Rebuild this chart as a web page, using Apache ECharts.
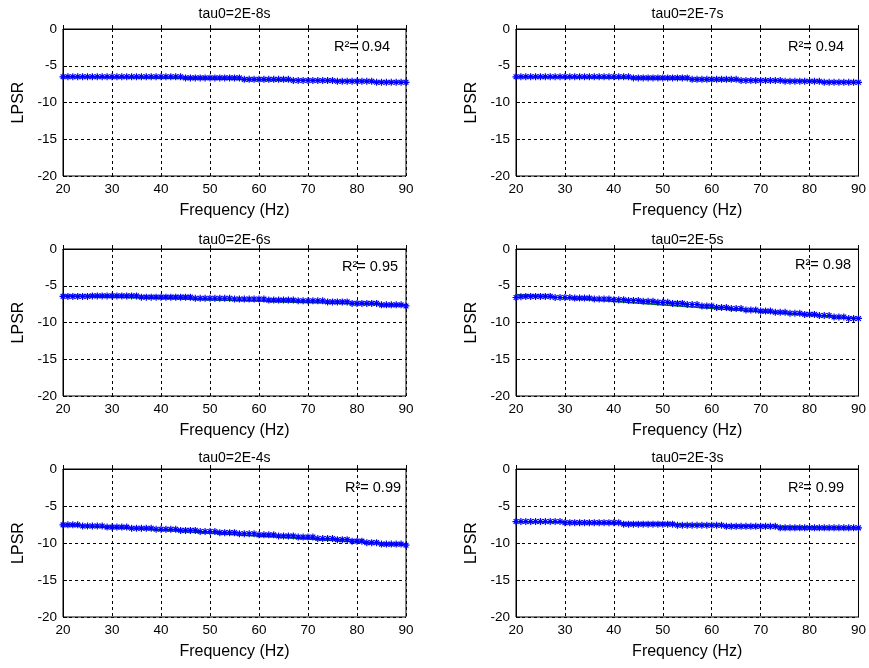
<!DOCTYPE html>
<html>
<head>
<meta charset="utf-8">
<script src="https://cdn.jsdelivr.net/npm/echarts@6/dist/echarts.min.js"></script>
<style>html,body{margin:0;padding:0;background:#fff}#c{width:869px;height:668px}</style>
</head>
<body>
<div id="c"></div>
<script>
const freq = [20,21,22,23,24,25,26,27,28,29,30,31,32,33,34,35,36,37,38,39,40,41,42,43,44,45,46,47,48,49,50,51,52,53,54,55,56,57,58,59,60,61,62,63,64,65,66,67,68,69,70,71,72,73,74,75,76,77,78,79,80,81,82,83,84,85,86,87,88,89,90];

const lpsr_2E8 = [
-6.5,-6.5,-6.5,-6.5,-6.5,-6.5,-6.5,-6.5,-6.5,-6.5,
-6.5,-6.5,-6.5,-6.5,-6.5,-6.5,-6.5,-6.5,-6.5,-6.5,
-6.5,-6.5,-6.5,-6.5,-6.5,
-6.65,-6.65,-6.65,-6.65,-6.65,-6.65,-6.65,-6.65,-6.65,-6.65,-6.65,-6.65,
-6.85,-6.85,-6.85,-6.85,-6.85,-6.85,-6.85,-6.85,-6.85,-6.85,
-7.0,-7.0,-7.0,-7.0,-7.0,-7.0,-7.0,-7.0,-7.0,
-7.1,-7.1,-7.1,-7.1,-7.1,-7.1,-7.1,-7.1,
-7.25,-7.25,-7.25,-7.25,-7.25,-7.25,-7.25];

const lpsr_2E7 = [
-6.5,-6.5,-6.5,-6.5,-6.5,-6.5,-6.5,-6.5,-6.5,-6.5,
-6.5,-6.5,-6.5,-6.5,-6.5,-6.5,-6.5,-6.5,-6.5,-6.5,
-6.5,-6.5,-6.5,-6.5,
-6.65,-6.65,-6.65,-6.65,-6.65,-6.65,-6.65,-6.65,-6.65,-6.65,-6.65,-6.65,
-6.85,-6.85,-6.85,-6.85,-6.85,-6.85,-6.85,-6.85,-6.85,-6.85,
-7.0,-7.0,-7.0,-7.0,-7.0,-7.0,-7.0,-7.0,-7.0,
-7.1,-7.1,-7.1,-7.1,-7.1,-7.1,-7.1,-7.1,
-7.25,-7.25,-7.25,-7.25,-7.25,-7.25,-7.25,-7.25];

const lpsr_2E6 = [
-6.45,-6.45,-6.45,-6.45,-6.45,-6.45,
-6.38,-6.38,-6.38,-6.38,-6.38,-6.38,-6.38,-6.38,-6.38,-6.38,
-6.55,-6.55,-6.55,-6.55,-6.55,-6.55,-6.55,-6.55,-6.55,-6.55,-6.55,
-6.7,-6.7,-6.7,-6.7,-6.7,-6.7,-6.7,-6.7,
-6.8,-6.8,-6.8,-6.8,-6.8,-6.8,-6.8,
-6.95,-6.95,-6.95,-6.95,-6.95,-6.95,
-7.05,-7.05,-7.05,-7.05,-7.05,-7.05,
-7.2,-7.2,-7.2,-7.2,-7.2,
-7.4,-7.4,-7.4,-7.4,-7.4,-7.4,
-7.6,-7.6,-7.6,-7.6,-7.6,
-7.75];

const lpsr_2E5 = [
-6.6,-6.5,
-6.45,-6.45,-6.45,-6.45,-6.45,-6.45,
-6.6,-6.6,-6.6,-6.6,
-6.68,-6.68,-6.68,-6.68,
-6.8,-6.8,-6.8,-6.8,
-6.9,-6.9,-6.9,
-7.0,-7.0,-7.0,
-7.12,-7.12,-7.12,
-7.25,-7.25,-7.25,
-7.4,-7.4,-7.4,
-7.55,-7.55,-7.55,
-7.75,-7.75,-7.75,
-7.95,-7.95,-7.95,
-8.1,-8.1,-8.1,
-8.3,-8.3,-8.3,
-8.45,-8.45,-8.45,
-8.6,-8.6,-8.6,
-8.75,-8.75,-8.75,
-8.9,-8.9,-8.9,
-9.05,-9.05,-9.05,
-9.25,-9.25,-9.25,
-9.45,-9.45,-9.45];

const lpsr_2E4 = [
-7.55,-7.55,-7.55,-7.55,
-7.7,-7.7,-7.7,-7.7,-7.7,
-7.85,-7.85,-7.85,-7.85,-7.85,
-8.0,-8.0,-8.0,-8.0,-8.0,
-8.15,-8.15,-8.15,-8.15,-8.15,
-8.3,-8.3,-8.3,-8.3,
-8.45,-8.45,-8.45,-8.45,
-8.6,-8.6,-8.6,-8.6,
-8.75,-8.75,-8.75,-8.75,
-8.9,-8.9,-8.9,-8.9,
-9.05,-9.05,-9.05,-9.05,
-9.2,-9.2,-9.2,-9.2,
-9.4,-9.4,-9.4,-9.4,
-9.55,-9.55,-9.55,
-9.75,-9.75,-9.75,
-9.95,-9.95,-9.95,
-10.15,-10.15,-10.15,-10.15,-10.15,
-10.3];

const lpsr_2E3 = [
-7.1,-7.1,-7.1,-7.1,-7.1,-7.1,-7.1,-7.1,-7.1,-7.1,
-7.25,-7.25,-7.25,-7.25,-7.25,-7.25,-7.25,-7.25,-7.25,-7.25,-7.25,-7.25,
-7.45,-7.45,-7.45,-7.45,-7.45,-7.45,-7.45,-7.45,-7.45,-7.45,-7.45,
-7.6,-7.6,-7.6,-7.6,-7.6,-7.6,-7.6,-7.6,-7.6,-7.6,
-7.75,-7.75,-7.75,-7.75,-7.75,-7.75,-7.75,-7.75,-7.75,-7.75,-7.75,
-7.95,-7.95,-7.95,-7.95,-7.95,-7.95,-7.95,-7.95,-7.95,-7.95,-7.95,-7.95,-7.95,-7.95,-7.95,-7.95,-7.95];

const fitFreq = [20, 90];
const fit_2E8 = [-6.45, -7.25];
const fit_2E7 = [-6.45, -7.25];
const fit_2E6 = [-6.35, -7.65];
const fit_2E5 = [-6.2, -9.5];
const fit_2E4 = [-7.5, -10.25];
const fit_2E3 = [-7.1, -7.95];

const titles = ['tau0=2E-8s','tau0=2E-7s','tau0=2E-6s','tau0=2E-5s','tau0=2E-4s','tau0=2E-3s'];
const r2Labels = ['R\u00B2= 0.94','R\u00B2= 0.94','R\u00B2= 0.95','R\u00B2= 0.98','R\u00B2= 0.99','R\u00B2= 0.99'];
const xTicks = [20,30,40,50,60,70,80,90];
const yTicks = [-20,-15,-10,-5,0];
const xLabel = 'Frequency (Hz)';
const yLabel = 'LPSR';

const pointsAll = [lpsr_2E8, lpsr_2E7, lpsr_2E6, lpsr_2E5, lpsr_2E4, lpsr_2E3];
const fitsAll = [fit_2E8, fit_2E7, fit_2E6, fit_2E5, fit_2E4, fit_2E3];

const FONT = '"Liberation Sans", Arial, sans-serif';
const layout = [
  {left:63, top:29, w:343, h:147, tx:234.5, ty:14, rx:334, ry:47},
  {left:516, top:29, w:343, h:147, tx:687.5, ty:14, rx:788, ry:47},
  {left:63, top:249, w:343, h:147, tx:234.5, ty:240, rx:342, ry:267},
  {left:516, top:249, w:343, h:147, tx:687.5, ty:240, rx:795, ry:265},
  {left:63, top:469, w:343, h:148, tx:234.5, ty:458, rx:345, ry:488},
  {left:516, top:469, w:343, h:148, tx:687.5, ty:458, rx:788, ry:488}
];

const star = 'path://M5 0L5 10M0 5L10 5M1.6 1.6L8.4 8.4M1.6 8.4L8.4 1.6';

const grids = [], xAxes = [], yAxes = [], series = [], graphics = [];
layout.forEach((L, i) => {
  grids.push({left:L.left, top:L.top, width:L.w, height:L.h, show:true, borderColor:'#000', borderWidth:1, backgroundColor:'#fff'});
  xAxes.push({
    type:'value', gridIndex:i, min:xTicks[0], max:xTicks[xTicks.length-1], interval:10,
    name:xLabel, nameLocation:'middle', nameGap:27,
    nameTextStyle:{color:'#000', fontSize:16, fontFamily:FONT},
    axisLine:{show:true, lineStyle:{color:'#000', width:1}},
    axisTick:{show:true, inside:true, length:4, lineStyle:{color:'#000'}},
    axisLabel:{color:'#000', fontSize:13.5, fontFamily:FONT, margin:6},
    splitLine:{show:true, lineStyle:{color:'#000', type:[3,3], width:1}}
  });
  yAxes.push({
    type:'value', gridIndex:i, min:yTicks[0], max:yTicks[yTicks.length-1], interval:5,
    name:yLabel, nameLocation:'middle', nameGap:36, nameRotate:90,
    nameTextStyle:{color:'#000', fontSize:16, fontFamily:FONT},
    axisLine:{show:true, lineStyle:{color:'#000', width:1}},
    axisTick:{show:true, inside:true, length:4, lineStyle:{color:'#000'}},
    axisLabel:{color:'#000', fontSize:13.5, fontFamily:FONT, margin:6},
    splitLine:{show:true, lineStyle:{color:'#000', type:[3,3], width:1}}
  });
  series.push({
    type:'line', xAxisIndex:i, yAxisIndex:i, symbol:'none', silent:true,
    data: fitFreq.map((f, k) => [f, fitsAll[i][k]]),
    lineStyle:{color:'#008000', width:1.5}, z:2
  });
  series.push({
    type:'scatter', xAxisIndex:i, yAxisIndex:i, symbol:star, symbolSize:7, silent:true,
    data: freq.map((f, k) => [f, pointsAll[i][k]]),
    itemStyle:{color:'#0000ff', borderColor:'#0000ff', borderWidth:1.2, opacity:1}, z:3
  });
  graphics.push({type:'text', x:L.tx, y:L.ty, z:10, style:{text:titles[i], fill:'#000', font:'14px ' + FONT, textAlign:'center', textVerticalAlign:'middle'}});
  graphics.push({type:'text', x:L.rx, y:L.ry, z:10, style:{text:r2Labels[i], fill:'#000', font:'14.5px ' + FONT, textAlign:'left', textVerticalAlign:'middle'}});
});

const chart = echarts.init(document.getElementById('c'), null, {renderer:'canvas'});
chart.setOption({
  animation:false,
  backgroundColor:'#fff',
  grid:grids, xAxis:xAxes, yAxis:yAxes, series:series, graphic:graphics
});
</script>
</body>
</html>
